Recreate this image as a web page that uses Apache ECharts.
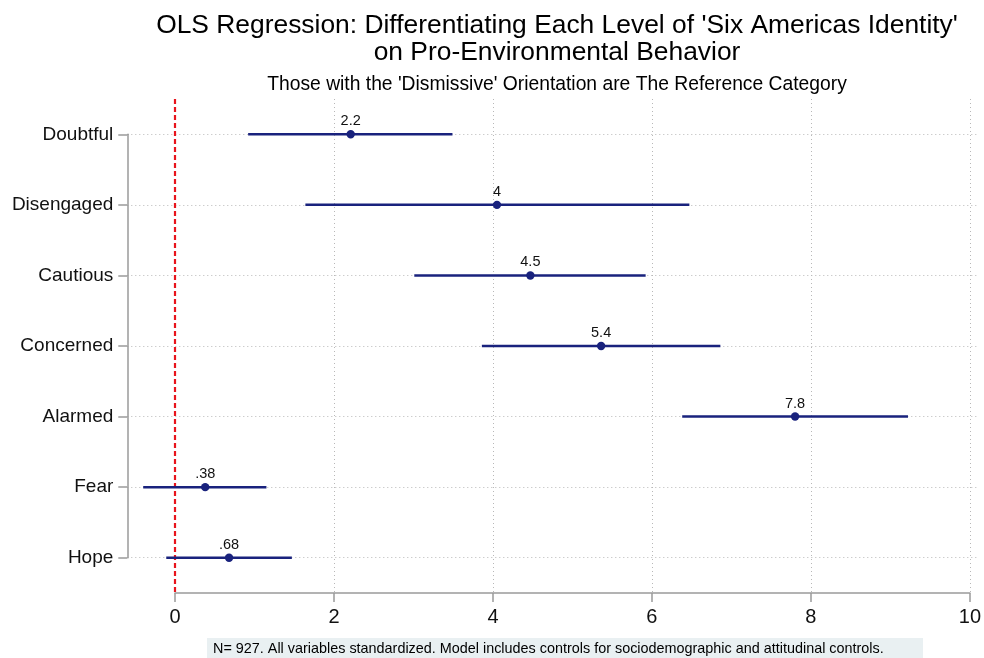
<!DOCTYPE html>
<html>
<head>
<meta charset="utf-8">
<script src="https://cdn.jsdelivr.net/npm/echarts@6/dist/echarts.min.js"></script>
<style>html,body{margin:0;padding:0;background:#fff;}#c{width:984px;height:658px;}</style>
</head>
<body>
<div id="c"></div>
<script>
var categories = ['Doubtful', 'Disengaged', 'Cautious', 'Concerned', 'Alarmed', 'Fear', 'Hope'];
var estimates = [2.21, 4.05, 4.47, 5.36, 7.80, 0.38, 0.68];
var lowerCI = [0.92, 1.64, 3.01, 3.86, 6.38, -0.40, -0.11];
var upperCI = [3.49, 6.47, 5.92, 6.86, 9.22, 1.15, 1.47];
var pointLabels = ['2.2', '4', '4.5', '5.4', '7.8', '.38', '.68'];
var xTicks = {min: 0, max: 10, interval: 2};
var referenceLine = 0;
var titleLines = ["OLS Regression: Differentiating Each Level of 'Six Americas Identity'", 'on Pro-Environmental Behavior'];
var subtitle = "Those with the 'Dismissive' Orientation are The Reference Category";
var noteText = 'N= 927. All variables standardized. Model includes controls for sociodemographic and attitudinal controls.';

var FONT = '"Liberation Sans", Arial, Helvetica, sans-serif';
var NAVY = '#19227d';

var seriesData = categories.map(function (c, i) {
  return [estimates[i], i, lowerCI[i], upperCI[i], pointLabels[i]];
});

var chart = echarts.init(document.getElementById('c'), null, {renderer: 'canvas'});
chart.setOption({
  animation: false,
  backgroundColor: '#ffffff',
  graphic: [
    {type: 'text', x: 557, y: 26, style: {text: titleLines[0], font: '26.4px ' + FONT, fill: '#000', textAlign: 'center', textVerticalAlign: 'middle', align: 'center', verticalAlign: 'middle'}},
    {type: 'text', x: 557, y: 53, style: {text: titleLines[1], font: '26.4px ' + FONT, fill: '#000', textAlign: 'center', textVerticalAlign: 'middle', align: 'center', verticalAlign: 'middle'}},
    {type: 'text', x: 557, y: 85, style: {text: subtitle, font: '19.3px ' + FONT, fill: '#000', textAlign: 'center', textVerticalAlign: 'middle', align: 'center', verticalAlign: 'middle'}},
    {type: 'rect', shape: {x: 207, y: 638, width: 716, height: 24}, style: {fill: '#e9f0f2'}},
    {type: 'text', x: 213, y: 649, style: {text: noteText, font: '14.4px ' + FONT, fill: '#000', textAlign: 'left', textVerticalAlign: 'middle', align: 'left', verticalAlign: 'middle'}}
  ],
  grid: [
    {left: 127.3, right: 6.05, top: 99, bottom: 65},
    {left: 175, right: 14, top: 99, bottom: 65},
    {left: 127.3, right: 6.05, top: 134.3, bottom: 100.3}
  ],
  xAxis: [
    {gridIndex: 0, type: 'value', min: -0.6, max: 10.1, show: false},
    {gridIndex: 1, type: 'value', min: xTicks.min, max: xTicks.max, interval: xTicks.interval,
      axisLine: {show: true, onZero: false, lineStyle: {color: '#9a9a9a', width: 1.5}},
      axisTick: {show: true, length: 9, lineStyle: {color: '#9a9a9a', width: 1.5}},
      axisLabel: {fontSize: 20, color: '#111', fontFamily: FONT, margin: 14},
      splitLine: {show: true, lineStyle: {color: '#b8b8b8', width: 1, type: [1, 3]}}
    },
    {gridIndex: 2, type: 'value', min: -0.6, max: 10.1, show: false}
  ],
  yAxis: [
    {gridIndex: 0, type: 'category', data: categories, inverse: true, boundaryGap: true, show: false},
    {gridIndex: 1, type: 'value', show: false, splitLine: {show: false}},
    {gridIndex: 2, type: 'category', data: categories, inverse: true, boundaryGap: false, position: 'left',
      axisLine: {show: true, onZero: false, lineStyle: {color: '#9a9a9a', width: 1.5}},
      axisTick: {show: true, length: 9, interval: 0, lineStyle: {color: '#9a9a9a', width: 1.5}},
      axisLabel: {fontSize: 19, color: '#111', fontFamily: FONT, margin: 14, interval: 0},
      splitLine: {show: true, interval: 0, lineStyle: {color: '#b8b8b8', width: 1, type: [1, 3]}}
    }
  ],
  series: [
    {
      type: 'custom',
      xAxisIndex: 0,
      yAxisIndex: 0,
      clip: false,
      z: 5,
      encode: {x: 0, y: 1},
      data: seriesData,
      renderItem: function (params, api) {
        var y = api.value(1);
        var p = api.coord([api.value(0), y]);
        var lo = api.coord([api.value(2), y]);
        var hi = api.coord([api.value(3), y]);
        return {
          type: 'group',
          children: [
            {type: 'line', shape: {x1: lo[0], y1: lo[1], x2: hi[0], y2: hi[1]}, style: {stroke: NAVY, lineWidth: 2.5}},
            {type: 'circle', shape: {cx: p[0], cy: p[1], r: 4.2}, style: {fill: NAVY}},
            {type: 'text', x: p[0], y: p[1] - 13, style: {text: seriesData[params.dataIndex][4], font: '14.5px ' + FONT, fill: '#111', align: 'center', verticalAlign: 'middle'}}
          ]
        };
      }
    },
    {
      type: 'line',
      xAxisIndex: 0,
      yAxisIndex: 0,
      data: [],
      z: 10,
      silent: true,
      markLine: {
        silent: true,
        symbol: 'none',
        label: {show: false},
        lineStyle: {color: '#e8141c', width: 2.2, type: [5, 3]},
        data: [{xAxis: referenceLine}]
      }
    }
  ]
});
</script>
</body>
</html>
